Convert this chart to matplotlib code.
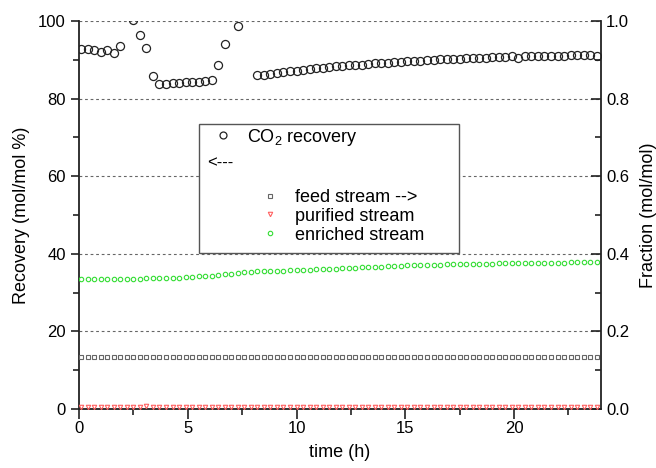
import numpy as np
import matplotlib
matplotlib.use("Agg")
import matplotlib.pyplot as plt
from matplotlib.patches import Rectangle
from matplotlib.lines import Line2D
from matplotlib.ticker import MultipleLocator, FormatStrFormatter

plt.rcParams['font.family'] = ['Liberation Sans', 'DejaVu Sans']
plt.rcParams['mathtext.default'] = 'regular'

# sampling times (h)
time_h = [0.1, 0.4, 0.7, 1.0, 1.3, 1.6, 1.9, 2.2, 2.5, 2.8,
          3.1, 3.4, 3.7, 4.0, 4.3, 4.6, 4.9, 5.2, 5.5, 5.8,
          6.1, 6.4, 6.7, 7.0, 7.3, 7.6, 7.9, 8.2, 8.5, 8.8,
          9.1, 9.4, 9.7, 10.0, 10.3, 10.6, 10.9, 11.2, 11.5, 11.8,
          12.1, 12.4, 12.7, 13.0, 13.3, 13.6, 13.9, 14.2, 14.5, 14.8,
          15.1, 15.4, 15.7, 16.0, 16.3, 16.6, 16.9, 17.2, 17.5, 17.8,
          18.1, 18.4, 18.7, 19.0, 19.3, 19.6, 19.9, 20.2, 20.5, 20.8,
          21.1, 21.4, 21.7, 22.0, 22.3, 22.6, 22.9, 23.2, 23.5, 23.8]

# CO2 recovery (mol/mol %), nan = off scale / missing
co2_recovery = [92.7, 92.7, 92.6, 91.9, 92.5, 91.8, 93.7, np.nan, 100.3, 96.3,
                93.1, 85.8, 83.8, 83.9, 84.0, 84.1, 84.2, 84.3, 84.4, 84.6,
                84.9, 88.7, 94.2, np.nan, 98.8, np.nan, np.nan, 86.0, 86.1, 86.3,
                86.5, 86.8, 87.0, 87.2, 87.4, 87.6, 87.8, 88.0, 88.1, 88.3,
                88.4, 88.6, 88.7, 88.8, 89.0, 89.1, 89.2, 89.3, 89.4, 89.5,
                89.6, 89.7, 89.8, 89.9, 90.0, 90.1, 90.2, 90.3, 90.3, 90.4,
                90.5, 90.6, 90.6, 90.7, 90.8, 90.8, 90.9, 90.5, 90.9, 91.0,
                91.0, 91.0, 91.1, 91.1, 91.1, 91.2, 91.2, 91.2, 91.2, 90.9]

# CO2 fraction (mol/mol)
feed_stream = [0.134, 0.134, 0.134, 0.134, 0.134, 0.134, 0.134, 0.134, 0.134, 0.134,
               0.134, 0.134, 0.134, 0.134, 0.134, 0.134, 0.134, 0.134, 0.134, 0.134,
               0.134, 0.134, 0.134, 0.134, 0.134, 0.134, 0.134, 0.134, 0.134, 0.134,
               0.134, 0.134, 0.134, 0.134, 0.134, 0.134, 0.134, 0.134, 0.134, 0.134,
               0.134, 0.134, 0.134, 0.134, 0.134, 0.134, 0.134, 0.134, 0.134, 0.134,
               0.134, 0.134, 0.134, 0.134, 0.134, 0.134, 0.134, 0.134, 0.134, 0.134,
               0.134, 0.134, 0.134, 0.134, 0.134, 0.134, 0.134, 0.134, 0.134, 0.134,
               0.134, 0.134, 0.134, 0.134, 0.134, 0.134, 0.134, 0.134, 0.134, 0.134]

purified_stream = [0.004, 0.004, 0.004, 0.004, 0.004, 0.004, 0.004, 0.004, 0.005, 0.006,
                   0.007, 0.006, 0.005, 0.005, 0.005, 0.005, 0.005, 0.005, 0.005, 0.005,
                   0.005, 0.005, 0.005, 0.005, 0.005, 0.005, 0.005, 0.005, 0.005, 0.005,
                   0.005, 0.005, 0.005, 0.005, 0.005, 0.005, 0.005, 0.005, 0.005, 0.005,
                   0.005, 0.005, 0.005, 0.005, 0.005, 0.005, 0.005, 0.005, 0.005, 0.005,
                   0.005, 0.005, 0.005, 0.005, 0.005, 0.005, 0.005, 0.005, 0.005, 0.005,
                   0.005, 0.005, 0.005, 0.005, 0.005, 0.005, 0.005, 0.005, 0.005, 0.005,
                   0.005, 0.005, 0.005, 0.005, 0.005, 0.005, 0.005, 0.005, 0.005, 0.005]

enriched_stream = [0.334, 0.334, 0.334, 0.335, 0.334, 0.335, 0.335, 0.335, 0.336, 0.336,
                   0.337, 0.337, 0.338, 0.338, 0.339, 0.339, 0.340, 0.341, 0.342, 0.343,
                   0.344, 0.345, 0.347, 0.349, 0.351, 0.353, 0.354, 0.355, 0.356, 0.356,
                   0.357, 0.357, 0.358, 0.358, 0.359, 0.359, 0.360, 0.361, 0.362, 0.362,
                   0.363, 0.364, 0.364, 0.365, 0.366, 0.366, 0.367, 0.368, 0.368, 0.369,
                   0.370, 0.370, 0.371, 0.371, 0.372, 0.372, 0.373, 0.373, 0.374, 0.374,
                   0.374, 0.375, 0.375, 0.375, 0.376, 0.376, 0.376, 0.376, 0.376, 0.377,
                   0.377, 0.377, 0.377, 0.377, 0.377, 0.378, 0.378, 0.378, 0.378, 0.378]

fig, ax = plt.subplots(figsize=(6.56, 4.68), dpi=100)
fig.subplots_adjust(left=0.1204, right=0.9162, bottom=0.126, top=0.955)

# left axis: recovery
co2_line, = ax.plot(time_h, co2_recovery, ls='none', marker='o', ms=5.8,
                    mfc='none', mec='#222222', mew=0.9)
ax.set_xlim(0, 24)
ax.set_ylim(0, 100)
ax.xaxis.set_major_locator(MultipleLocator(5))
ax.xaxis.set_minor_locator(MultipleLocator(2.5))
ax.yaxis.set_major_locator(MultipleLocator(20))
ax.yaxis.set_minor_locator(MultipleLocator(10))
ax.tick_params(which='both', direction='out', labelsize=12, width=1.2, color='#222222')
ax.tick_params(which='major', length=6)
ax.tick_params(which='minor', length=4)
ax.tick_params(axis='x', which='major', length=7, pad=1.5)
ax.spines['top'].set_visible(False)
ax.spines['right'].set_visible(False)
for s in ('left', 'bottom'):
    ax.spines[s].set_linewidth(1.3)
    ax.spines[s].set_color('#222222')
ax.grid(axis='y', which='major', color='#666666', lw=0.8, ls=(0, (2.5, 2.5)))
grid_lines = ax.get_ygridlines()
grid_lines[0].set_visible(False)
grid_lines[-1].set_visible(False)
ax.set_xlabel('time (h)', fontsize=13, labelpad=6)
ax.set_ylabel('Recovery (mol/mol %)', fontsize=13, labelpad=6)

# right axis: fractions
ax2 = ax.twinx()
feed_line, = ax2.plot(time_h, feed_stream, ls='none', marker='s', ms=2.6,
                      mfc='none', mec='#666666', mew=0.8)
pur_line, = ax2.plot(time_h, purified_stream, ls='none', marker='v', ms=3.2,
                     mfc='none', mec='#ff6060', mew=0.8)
enr_line, = ax2.plot(time_h, enriched_stream, ls='none', marker='o', ms=3.2,
                     mfc='none', mec='#33dd33', mew=0.8)
ax2.set_ylim(0, 1)
ax2.yaxis.set_major_locator(MultipleLocator(0.2))
ax2.yaxis.set_minor_locator(MultipleLocator(0.1))
ax2.yaxis.set_major_formatter(FormatStrFormatter('%.1f'))
ax2.tick_params(which='both', direction='in', labelsize=12, width=1.2, color='#222222')
ax2.tick_params(which='major', length=7)
ax2.tick_params(which='minor', length=4)
ax2.spines['top'].set_visible(False)
ax2.spines['left'].set_visible(False)
ax2.spines['bottom'].set_visible(False)
ax2.spines['right'].set_linewidth(1.3)
ax2.spines['right'].set_color('#222222')
ax2.set_ylabel('Fraction (mol/mol)', fontsize=13, labelpad=8)

# legend box
box = Rectangle((0.230, 0.402), 0.498, 0.333, transform=ax2.transAxes,
                facecolor='white', edgecolor='#555555', lw=1.0, zorder=4)
ax2.add_patch(box)

h_co2 = Line2D([], [], ls='none', marker='o', ms=5, mfc='none', mec='#222222', mew=0.9)
leg1 = ax2.legend([h_co2], ['CO$_2$ recovery'], loc='center left',
                  bbox_to_anchor=(0.259, 0.701), frameon=False, fontsize=13,
                  handlelength=1.0, handletextpad=0.8, borderpad=0, borderaxespad=0)
ax2.add_artist(leg1)
ax2.text(0.245, 0.634, '<---', transform=ax2.transAxes, fontsize=12,
         va='center', ha='left', zorder=6)

h_feed = Line2D([], [], ls='none', marker='s', ms=2.6, mfc='none', mec='#666666', mew=0.8)
h_pur = Line2D([], [], ls='none', marker='v', ms=3.2, mfc='none', mec='#ff6060', mew=0.8)
h_enr = Line2D([], [], ls='none', marker='o', ms=3.2, mfc='none', mec='#33dd33', mew=0.8)
leg2 = ax2.legend([h_feed, h_pur, h_enr],
                  ['feed stream -->', 'purified stream', 'enriched stream'],
                  loc='center left', bbox_to_anchor=(0.349, 0.497), frameon=False,
                  fontsize=13, handlelength=1.0, handletextpad=0.9,
                  labelspacing=0.1, borderpad=0, borderaxespad=0)

fig.savefig('out.png', dpi=100)
